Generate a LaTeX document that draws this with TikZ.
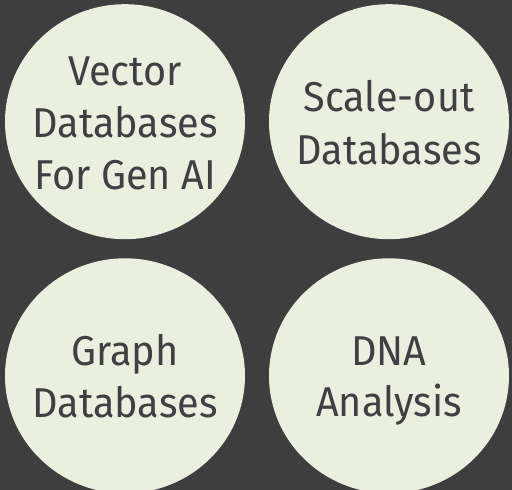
\documentclass[tikz,border=0pt]{standalone}
\usepackage{fontspec}
\setmainfont{Fira Sans}[FakeStretch=0.95]
\usetikzlibrary{shapes.geometric}
\definecolor{bgdark}{HTML}{3E3E3E}
\definecolor{disc}{HTML}{EBEFDF}
\definecolor{ink}{HTML}{404040}
\tikzset{
  topic/.style={ellipse, fill=disc, draw=none, inner sep=0pt,
    minimum width=240pt, minimum height=235pt},
  label/.style={anchor=base, inner sep=0pt, text=ink,
    font=\fontsize{41.7pt}{52pt}\selectfont}
}
\begin{document}
\begin{tikzpicture}[x=1pt,y=-1pt]
  \fill[bgdark] (0,0) rectangle (512,490);
  \useasboundingbox (0,0) rectangle (512,490);

  % the four topic discs
  \node[topic] (vec)   at (125,121.7) {};
  \node[topic] (scale) at (389,121.7) {};
  \node[topic] (graph) at (125,375.8) {};
  \node[topic] (dna)   at (389,375.8) {};

  % labels, one node per line
  \node[label] (vec1) at (125,85)    {Vector};
  \node[label] (vec2) at (125,137.5) {Databases};
  \node[label] (vec3) at (125,189)   {For Gen AI};

  \node[label] (scale1) at (389,111)   {Scale-out};
  \node[label] (scale2) at (389,164.3) {Databases};

  \node[label] (graph1) at (125,365)   {Graph};
  \node[label] (graph2) at (125,417)   {Databases};

  \node[label] (dna1) at (389,365)   {DNA};
  \node[label] (dna2) at (389,416.7) {Analysis};
\end{tikzpicture}
\end{document}
